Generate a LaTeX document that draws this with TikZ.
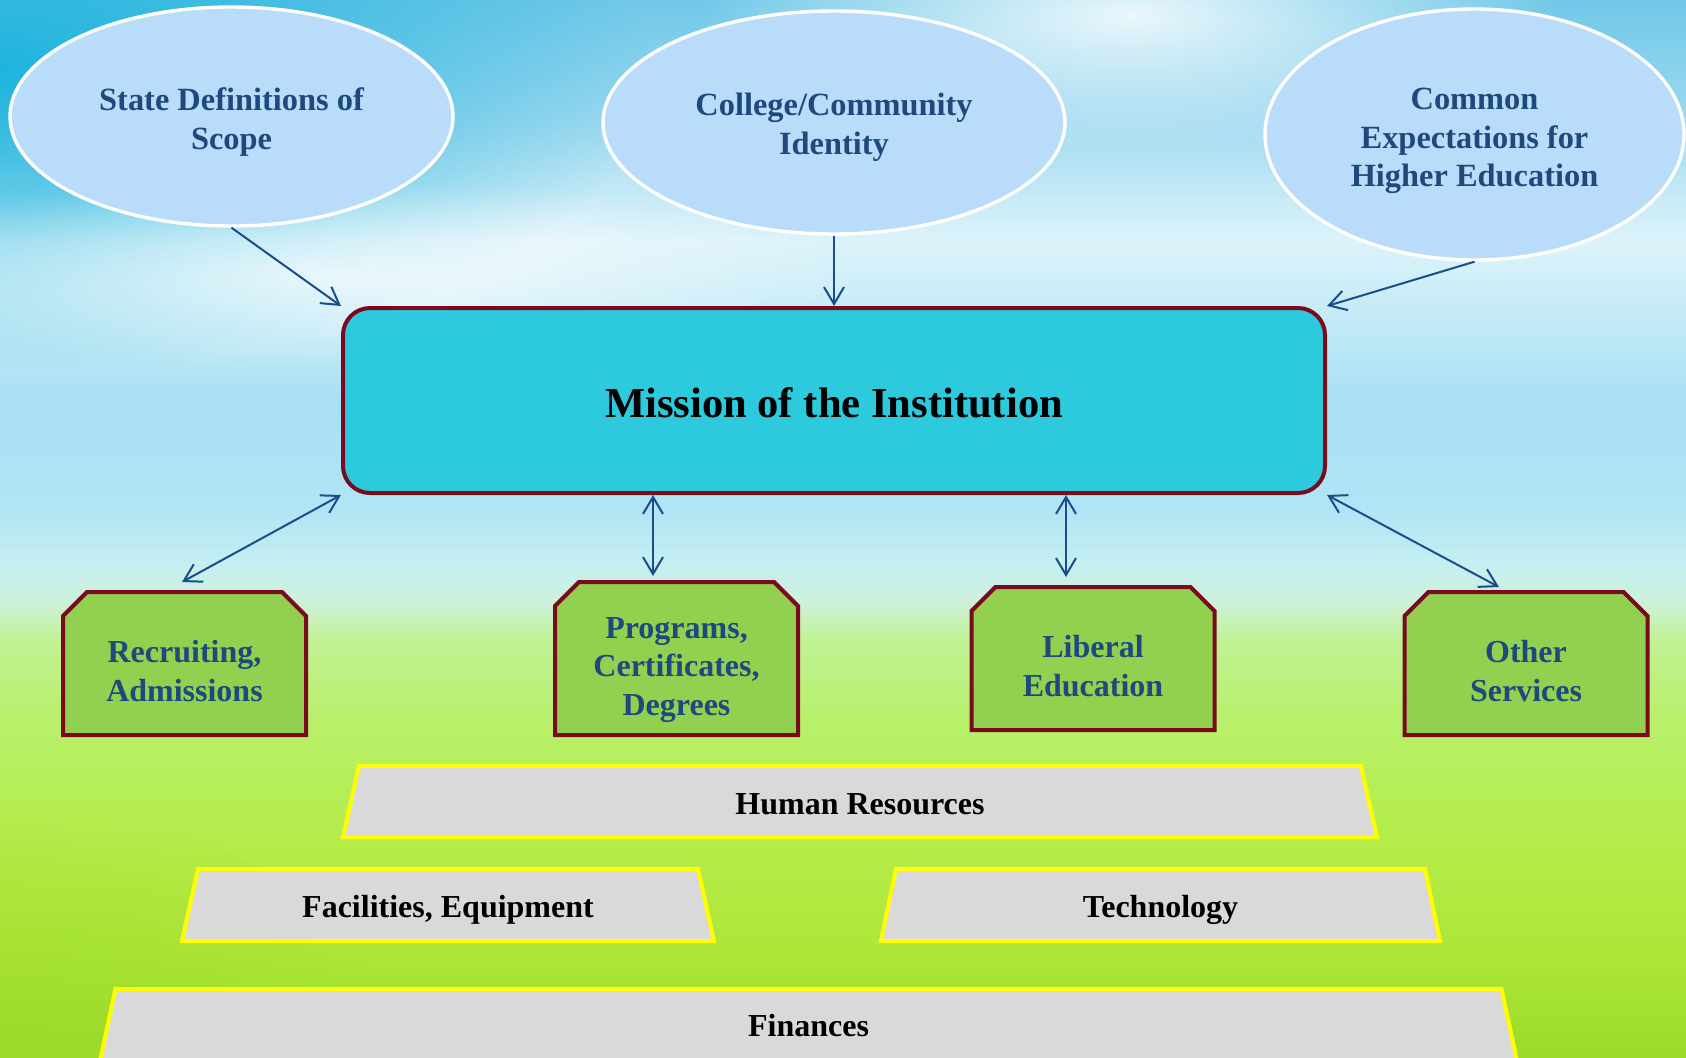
\documentclass[tikz,border=0pt]{standalone}
\usepackage{fontspec}
\setmainfont{Liberation Serif}
\usetikzlibrary{shapes.geometric,arrows.meta,fadings}

\definecolor{ellfill}{HTML}{B8DCF9}
\definecolor{missionfill}{HTML}{2DC9DD}
\definecolor{maroonline}{HTML}{7A0A1E}
\definecolor{unitgreen}{HTML}{92D050}
\definecolor{slabgray}{HTML}{D9D9D9}
\definecolor{slabline}{HTML}{FFFF00}
\definecolor{navytext}{HTML}{1F497D}
\definecolor{arrowblue}{HTML}{1A4E8A}
\definecolor{skydeep}{HTML}{1EB4DE}
\definecolor{gA}{HTML}{9CDA28}
\definecolor{gB}{HTML}{ACE636}
\definecolor{gC}{HTML}{B4EC48}
\definecolor{gD}{HTML}{B8F06A}
\definecolor{gE}{HTML}{C2F296}
\definecolor{hA}{HTML}{CDF1DC}
\definecolor{hB}{HTML}{C4EEF2}
\definecolor{sA}{HTML}{B0E5F5}
\definecolor{sB}{HTML}{A8E1F3}
\definecolor{sC}{HTML}{DDF3FA}
\definecolor{sD}{HTML}{9ED9F0}
\definecolor{sE}{HTML}{70C8E8}

\pgfdeclareverticalshading{skyfield}{100bp}{color(0bp)=(gA); color(25bp)=(gA); color(29.6bp)=(gB); color(34.8bp)=(gC); color(41bp)=(gD); color(44.8bp)=(gE); color(46.6bp)=(hA); color(48.5bp)=(hB); color(50.9bp)=(sA); color(56.1bp)=(sB); color(63.6bp)=(sC); color(69.3bp)=(sD); color(75bp)=(sE); color(100bp)=(sE)}

\tikzfading[name=softglow, inner color=transparent!0, outer color=transparent!100]

\pgfdeclarelayer{bg}
\pgfsetlayers{bg,main}

\begin{document}
\begin{tikzpicture}[x=0.5pt,y=-0.5pt,
  idea/.style={ellipse, draw=white, line width=1.7pt, fill=ellfill, inner sep=0pt},
  ideatext/.style={text=navytext, font=\bfseries\fontsize{16.2}{19.4}\selectfont, align=center},
  mission/.style={rectangle, rounded corners=13.5pt, draw=maroonline, line width=2pt,
    fill=missionfill, text=black, font=\bfseries\fontsize{21.3}{25}\selectfont, inner sep=0pt,
    text height=16.6pt, text depth=0pt},
  unit/.style={rectangle, inner sep=0pt, outer sep=0pt, minimum width=121.5pt, minimum height=71.5pt},
  unittext/.style={text=navytext, font=\bfseries\fontsize{16}{19.1}\selectfont, align=center, yshift=-3.75pt},
  unitshape/.style={draw=maroonline, line width=2pt, fill=unitgreen, line join=miter},
  slab/.style={rectangle, inner sep=0pt, outer sep=0pt, minimum height=35.75pt, text=black,
    font=\bfseries\fontsize{16}{19}\selectfont},
  slabshape/.style={draw=slabline, line width=2pt, fill=slabgray, line join=miter},
  link/.style={draw=arrowblue, line width=1pt, arrows={-Straight Barb[length=8.5pt,width=10pt]}},
  twoway/.style={draw=arrowblue, line width=1pt, arrows={Straight Barb[length=8.5pt,width=10pt]-Straight Barb[length=8.5pt,width=10pt]}}
]
\useasboundingbox (0,0) rectangle (1686,1057);

% top ellipses
\node[idea, minimum width=221.5pt, minimum height=109.5pt,
  label={[ideatext,yshift=-2.7pt]center:{State Definitions of\\Scope}}] (st) at (231.5,116.5) {};
\node[idea, minimum width=231pt, minimum height=111.5pt,
  label={[ideatext,yshift=-2.2pt]center:{College/Community\\Identity}}] (col) at (834,122.5) {};
\node[idea, minimum width=209.5pt, minimum height=125.5pt,
  label={[ideatext,yshift=-3.2pt]center:{Common\\Expectations for\\Higher Education}}] (com) at (1474.5,134.5) {};

% mission
\node[mission, minimum width=491pt, minimum height=92.5pt] (mis) at (834,400.5) {Mission of the Institution};

% green units
\node[unit, label={[unittext]center:{Recruiting,\\Admissions}}] (rec) at (184.5,663.5) {};
\node[unit, minimum height=76.5pt, label={[unittext,yshift=-2pt]center:{Programs,\\Certificates,\\Degrees}}] (prog) at (676.5,658.5) {};
\node[unit, label={[unittext]center:{Liberal\\Education}}] (lib) at (1093,658.5) {};
\node[unit, label={[unittext]center:{Other\\Services}}] (oth) at (1526,663.5) {};

% slabs
\node[slab, minimum width=517pt, text height=12.9pt, text depth=0pt] (hr) at (860,801.5) {Human Resources};
\node[slab, minimum width=266pt, minimum height=36pt, text height=16.4pt, text depth=3.5pt] (fac) at (448,905) {Facilities, Equipment};
\node[slab, minimum width=279.5pt, minimum height=36pt, text height=16.4pt, text depth=3.5pt] (tec) at (1160.5,905) {Technology};
\node[slab, minimum width=709pt, minimum height=37pt] (fin) at (808.5,1026) {Finances};

% background and outlines
\begin{pgfonlayer}{bg}
\begin{scope}
\clip (0,0) rectangle (1686,1057);
\shade[shading=skyfield] (0,0) rectangle (1686,1057);
\fill[skydeep, path fading=softglow] (0,70) ellipse [x radius=650, y radius=300];
\fill[white, path fading=softglow, opacity=0.85] (1130,15) ellipse [x radius=430, y radius=140];
\fill[white, path fading=softglow, opacity=0.7] (330,275) ellipse [x radius=540, y radius=95];
\fill[gA, path fading=softglow, opacity=0.6] (0,1057) ellipse [x radius=400, y radius=250];
\end{scope}
\foreach \n in {rec,prog,lib,oth}
  \draw[unitshape] (\n.south west) -- ([yshift=-12pt]\n.north west) -- ([xshift=12pt]\n.north west)
    -- ([xshift=-12pt]\n.north east) -- ([yshift=-12pt]\n.north east) -- (\n.south east) -- cycle;
\foreach \n/\d in {hr/8pt,fac/8pt,tec/7.5pt,fin/8pt}
  \draw[slabshape] ([xshift=\d]\n.north west) -- ([xshift=-\d]\n.north east) -- (\n.south east) -- (\n.south west) -- cycle;
\end{pgfonlayer}

% connectors
\draw[link] (st.south) -- (mis.north west);
\draw[link] (col.south) -- (mis.north);
\draw[link] (com.south) -- (mis.north east);
\draw[twoway] (mis.south west) -- ([xshift=-1.25pt,yshift=5pt]rec.north);
\draw[twoway] ([xshift=-90.5pt]mis.south) -- ([xshift=-11.75pt,yshift=3pt]prog.north);
\draw[twoway] ([xshift=116pt]mis.south) -- ([xshift=-13.5pt,yshift=5pt]lib.north);
\draw[twoway] (mis.south east) -- ([xshift=-13.5pt,yshift=2.5pt]oth.north);
\end{tikzpicture}
\end{document}
